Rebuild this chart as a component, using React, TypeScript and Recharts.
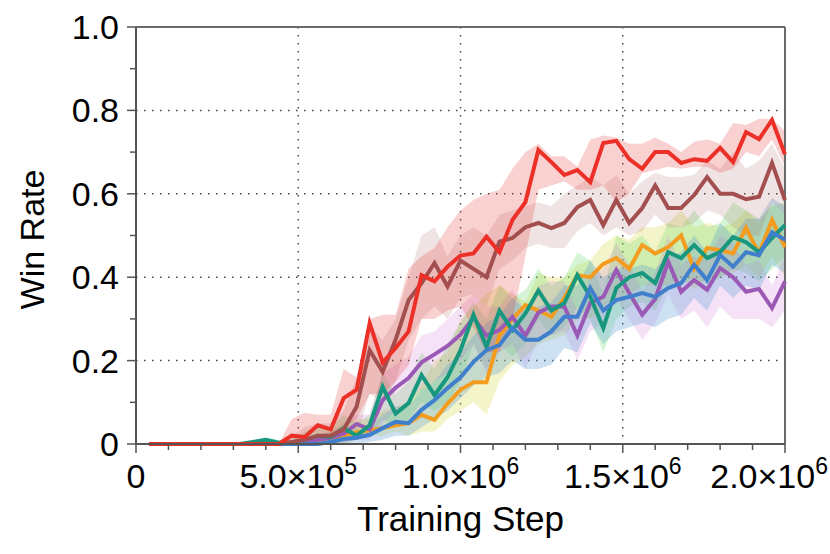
import React from 'react';
import { ComposedChart, Line, Area, XAxis, YAxis, CartesianGrid, ReferenceLine } from 'recharts';

const FONT = '"Liberation Sans", Arial, Helvetica, sans-serif';

const steps = [40000, 80000, 120000, 160000, 200000, 240000, 280000, 320000, 360000, 400000,
  440000, 480000, 520000, 560000, 600000, 640000, 680000, 720000, 760000, 800000,
  840000, 880000, 920000, 960000, 1000000, 1040000, 1080000, 1120000, 1160000, 1200000,
  1240000, 1280000, 1320000, 1360000, 1400000, 1440000, 1480000, 1520000, 1560000, 1600000,
  1640000, 1680000, 1720000, 1760000, 1800000, 1840000, 1880000, 1920000, 1960000, 2000000];

const red = [0, 0, 0, 0, 0, 0, 0, 0, 0, 0, 0,
  0.02, 0.017, 0.045, 0.035, 0.11, 0.13, 0.29, 0.195, 0.23, 0.27, 0.405, 0.39, 0.425, 0.452, 0.457, 0.497, 0.46, 0.537, 0.58,
  0.705, 0.676, 0.645, 0.657, 0.628, 0.722, 0.727, 0.683, 0.66, 0.70, 0.70, 0.674, 0.683, 0.679, 0.71, 0.676, 0.748, 0.731, 0.777, 0.695];
const redLo = [0, 0, 0, 0, 0, 0, 0, 0, 0, 0, 0,
  0, 0, 0.01, 0.01, 0.04, 0.06, 0.12, 0.12, 0.15, 0.19, 0.30, 0.30, 0.32, 0.33, 0.28, 0.22, 0.22, 0.30, 0.45,
  0.61, 0.62, 0.63, 0.61, 0.61, 0.62, 0.58, 0.60, 0.65, 0.657, 0.665, 0.66, 0.665, 0.665, 0.65, 0.66, 0.70, 0.69, 0.73, 0.665];
const redHi = [0, 0, 0, 0, 0, 0, 0, 0, 0, 0, 0,
  0.06, 0.075, 0.07, 0.07, 0.18, 0.16, 0.30, 0.31, 0.31, 0.42, 0.45, 0.47, 0.52, 0.56, 0.585, 0.60, 0.61, 0.66, 0.70,
  0.72, 0.69, 0.69, 0.665, 0.73, 0.74, 0.735, 0.72, 0.72, 0.735, 0.72, 0.70, 0.725, 0.73, 0.72, 0.77, 0.765, 0.78, 0.78, 0.75];

const brown = [0, 0, 0, 0, 0, 0, 0, 0, 0, 0, 0,
  0.005, 0.01, 0.02, 0.02, 0.035, 0.09, 0.225, 0.173, 0.25, 0.345, 0.386, 0.434, 0.378, 0.44, 0.42, 0.40, 0.485, 0.494, 0.52,
  0.53, 0.518, 0.53, 0.568, 0.585, 0.525, 0.585, 0.53, 0.566, 0.62, 0.566, 0.566, 0.597, 0.64, 0.60, 0.60, 0.587, 0.593, 0.674, 0.585];
const brownLo = [0, 0, 0, 0, 0, 0, 0, 0, 0, 0, 0,
  0, 0, 0, 0, 0.01, 0.02, 0.12, 0.10, 0.15, 0.25, 0.30, 0.33, 0.30, 0.35, 0.36, 0.33, 0.42, 0.44, 0.47,
  0.48, 0.47, 0.47, 0.51, 0.53, 0.50, 0.52, 0.50, 0.51, 0.55, 0.52, 0.52, 0.53, 0.56, 0.55, 0.52, 0.50, 0.50, 0.58, 0.55];
const brownHi = [0, 0, 0, 0, 0, 0, 0, 0, 0, 0, 0,
  0.02, 0.04, 0.05, 0.05, 0.08, 0.16, 0.28, 0.25, 0.30, 0.40, 0.50, 0.52, 0.45, 0.50, 0.52, 0.50, 0.55, 0.56, 0.57,
  0.58, 0.57, 0.60, 0.62, 0.64, 0.62, 0.645, 0.60, 0.63, 0.65, 0.64, 0.64, 0.645, 0.68, 0.66, 0.70, 0.66, 0.68, 0.72, 0.66];

const orange = [0, 0, 0, 0, 0, 0, 0, 0, 0, 0, 0, 0,
  0.003, 0.008, 0.015, 0.02, 0.028, 0.033, 0.038, 0.045, 0.05, 0.07, 0.058, 0.097, 0.13, 0.148, 0.148, 0.26, 0.30, 0.333,
  0.32, 0.305, 0.35, 0.405, 0.40, 0.432, 0.446, 0.42, 0.477, 0.457, 0.472, 0.50, 0.42, 0.47, 0.465, 0.457, 0.518, 0.457, 0.537, 0.472];
const orangeLo = [0, 0, 0, 0, 0, 0, 0, 0, 0, 0, 0, 0,
  0, 0, 0, 0, 0.01, 0.02, 0.02, 0.03, 0.02, 0.03, 0.03, 0.06, 0.08, 0.10, 0.07, 0.15, 0.19, 0.21,
  0.24, 0.25, 0.26, 0.30, 0.30, 0.33, 0.35, 0.36, 0.38, 0.38, 0.38, 0.40, 0.37, 0.40, 0.40, 0.41, 0.43, 0.40, 0.45, 0.40];
const orangeHi = [0, 0, 0, 0, 0, 0, 0, 0, 0, 0, 0, 0,
  0.01, 0.02, 0.03, 0.05, 0.06, 0.06, 0.08, 0.09, 0.10, 0.14, 0.20, 0.22, 0.30, 0.33, 0.36, 0.38, 0.36, 0.34,
  0.41, 0.40, 0.40, 0.43, 0.44, 0.48, 0.50, 0.49, 0.52, 0.52, 0.53, 0.56, 0.52, 0.53, 0.52, 0.53, 0.56, 0.53, 0.58, 0.55];

const teal = [0, 0, 0, 0, 0, 0, 0, 0,
  0.005, 0.01, 0.003, 0.003, 0.01, 0.02, 0.017, 0.038, 0.02, 0.045, 0.137, 0.073, 0.098, 0.165, 0.117, 0.16, 0.225, 0.31, 0.233, 0.32, 0.273, 0.313,
  0.368, 0.32, 0.338, 0.405, 0.353, 0.278, 0.374, 0.40, 0.41, 0.386, 0.46, 0.446, 0.477, 0.446, 0.46, 0.496, 0.484, 0.46, 0.494, 0.525];
const tealLo = [0, 0, 0, 0, 0, 0, 0, 0,
  0, 0, 0, 0, 0, 0, 0, 0.01, 0.01, 0.02, 0.06, 0.04, 0.06, 0.10, 0.08, 0.10, 0.15, 0.24, 0.18, 0.24, 0.21, 0.24,
  0.30, 0.26, 0.28, 0.33, 0.30, 0.22, 0.30, 0.33, 0.34, 0.32, 0.38, 0.38, 0.40, 0.38, 0.40, 0.42, 0.41, 0.39, 0.42, 0.45];
const tealHi = [0, 0, 0, 0, 0, 0, 0, 0,
  0.008, 0.015, 0.01, 0.01, 0.03, 0.04, 0.04, 0.07, 0.05, 0.07, 0.17, 0.12, 0.15, 0.22, 0.18, 0.24, 0.29, 0.34, 0.30, 0.38, 0.35, 0.37,
  0.42, 0.38, 0.40, 0.46, 0.44, 0.36, 0.50, 0.48, 0.50, 0.46, 0.53, 0.52, 0.56, 0.52, 0.53, 0.58, 0.56, 0.54, 0.57, 0.58];

const purple = [0, 0, 0, 0, 0, 0, 0, 0, 0, 0, 0, 0,
  0.003, 0.01, 0.015, 0.025, 0.048, 0.035, 0.105, 0.135, 0.158, 0.196, 0.215, 0.235, 0.262, 0.303, 0.26, 0.273, 0.305, 0.26,
  0.315, 0.33, 0.33, 0.26, 0.338, 0.353, 0.417, 0.362, 0.31, 0.348, 0.437, 0.365, 0.393, 0.37, 0.422, 0.40, 0.365, 0.372, 0.326, 0.39];
const purpleLo = [0, 0, 0, 0, 0, 0, 0, 0, 0, 0, 0, 0, 0,
  0, 0, 0, 0.01, 0.01, 0.05, 0.08, 0.10, 0.13, 0.15, 0.17, 0.20, 0.24, 0.17, 0.22, 0.24, 0.18,
  0.25, 0.26, 0.27, 0.20, 0.27, 0.29, 0.35, 0.30, 0.25, 0.29, 0.36, 0.30, 0.32, 0.28, 0.33, 0.30, 0.30, 0.30, 0.28, 0.32];
const purpleHi = [0, 0, 0, 0, 0, 0, 0, 0, 0, 0, 0, 0, 0.005,
  0.02, 0.03, 0.05, 0.07, 0.07, 0.17, 0.19, 0.21, 0.26, 0.27, 0.30, 0.33, 0.36, 0.33, 0.33, 0.37, 0.32,
  0.38, 0.39, 0.39, 0.32, 0.40, 0.42, 0.48, 0.43, 0.37, 0.41, 0.50, 0.43, 0.45, 0.44, 0.50, 0.48, 0.43, 0.44, 0.38, 0.45];

const blue = [0, 0, 0, 0, 0, 0, 0, 0, 0, 0, 0, 0, 0, 0,
  0.005, 0.012, 0.015, 0.022, 0.038, 0.053, 0.05, 0.082, 0.105, 0.134, 0.16, 0.197, 0.225, 0.237, 0.278, 0.25,
  0.25, 0.27, 0.305, 0.305, 0.374, 0.32, 0.345, 0.353, 0.362, 0.353, 0.374, 0.386, 0.43, 0.393, 0.453, 0.425, 0.46, 0.453, 0.508, 0.49];
const blueLo = [0, 0, 0, 0, 0, 0, 0, 0, 0, 0, 0, 0,
  0, 0, 0, 0, 0, 0.005, 0.01, 0.02, 0.02, 0.04, 0.06, 0.08, 0.11, 0.14, 0.16, 0.17, 0.20, 0.18,
  0.18, 0.19, 0.23, 0.22, 0.29, 0.24, 0.27, 0.28, 0.29, 0.28, 0.30, 0.31, 0.35, 0.32, 0.38, 0.35, 0.38, 0.37, 0.43, 0.41];
const blueHi = [0, 0, 0, 0, 0, 0, 0, 0, 0, 0, 0, 0,
  0.005, 0.01, 0.015, 0.025, 0.03, 0.04, 0.07, 0.09, 0.09, 0.13, 0.15, 0.19, 0.22, 0.26, 0.29, 0.31, 0.35, 0.32,
  0.33, 0.34, 0.38, 0.38, 0.44, 0.40, 0.42, 0.42, 0.43, 0.42, 0.45, 0.46, 0.50, 0.46, 0.53, 0.50, 0.54, 0.54, 0.59, 0.57];

const xAllTicks = [0, 100000, 200000, 300000, 400000, 500000, 600000, 700000, 800000, 900000, 1000000,
  1100000, 1200000, 1300000, 1400000, 1500000, 1600000, 1700000, 1800000, 1900000, 2000000];
const xMajorTicks = [0, 500000, 1000000, 1500000, 2000000];
const xTickMantissa = ['0', '5.0', '1.0', '1.5', '2.0'];
const xTickExponent = ['', '5', '6', '6', '6'];

const yAllTicks = [0, 0.1, 0.2, 0.3, 0.4, 0.5, 0.6, 0.7, 0.8, 0.9, 1];
const yMajorTicks = [0, 0.2, 0.4, 0.6, 0.8, 1];
const yTickLabels = ['0', '0.2', '0.4', '0.6', '0.8', '1.0'];

const data = steps.map((s, i) => ({
  step: s,
  red: red[i], redBand: [redLo[i], redHi[i]],
  brown: brown[i], brownBand: [brownLo[i], brownHi[i]],
  orange: orange[i], orangeBand: [orangeLo[i], orangeHi[i]],
  teal: teal[i], tealBand: [tealLo[i], tealHi[i]],
  purple: purple[i], purpleBand: [purpleLo[i], purpleHi[i]],
  blue: blue[i], blueBand: [blueLo[i], blueHi[i]],
}));

const AXIS = '#555';
const CHART_W = 830;
const TICK_FS = 34;
const SUP_FS = 23;

const XTick = (props: any) => {
  const { x, y, payload } = props;
  const idx = xMajorTicks.indexOf(payload.value);
  const major = idx >= 0;
  let labelX = x;
  let anchor: 'middle' | 'end' = 'middle';
  if (major && xTickExponent[idx]) {
    const half = (3.1 * TICK_FS + 0.56 * SUP_FS) / 2;
    if (x + half > CHART_W - 2) {
      labelX = CHART_W - 2;
      anchor = 'end';
    }
  }
  return (
    <g>
      <line x1={x} x2={x} y1={y} y2={y + (major ? 9 : 6)} stroke={AXIS} strokeWidth={1.5} />
      {major && (
        <text x={labelX} y={y + 44} textAnchor={anchor} fontSize={TICK_FS} fontFamily={FONT} fill="#000">
          {xTickExponent[idx] ? xTickMantissa[idx] + '×10' : xTickMantissa[idx]}
          {xTickExponent[idx] ? <tspan dy={-14} fontSize={SUP_FS}>{xTickExponent[idx]}</tspan> : null}
        </text>
      )}
    </g>
  );
};

const YTick = (props: any) => {
  const { x, y, payload } = props;
  const idx = yMajorTicks.findIndex((v) => Math.abs(v - payload.value) < 1e-9);
  const major = idx >= 0;
  return (
    <g>
      <line x1={x - (major ? 9 : 6)} x2={x} y1={y} y2={y} stroke={AXIS} strokeWidth={1.5} />
      {major && (
        <text x={x - 17} y={y} dy={12} textAnchor="end" fontSize={TICK_FS} fontFamily={FONT} fill="#000">
          {yTickLabels[idx]}
        </text>
      )}
    </g>
  );
};

const XTitle = (props: any) => {
  const vb = props.viewBox || { x: 136, y: 444, width: 649, height: 110 };
  return (
    <text x={vb.x + vb.width / 2} y={vb.y + 87} textAnchor="middle" fontSize={35} fontFamily={FONT} fill="#000">
      Training Step
    </text>
  );
};

const YTitle = (props: any) => {
  const vb = props.viewBox || { x: 0, y: 27, width: 136, height: 417 };
  const cx = vb.x + 32;
  const cy = vb.y + vb.height / 2 + 4;
  return (
    <text x={cx} y={cy} transform={`rotate(-90, ${cx}, ${cy})`} dy={12} textAnchor="middle" fontSize={34} fontFamily={FONT} fill="#000">
      Win Rate
    </text>
  );
};

const bands = [
  { key: 'orangeBand', fill: '#d6d640', op: 0.28 },
  { key: 'tealBand', fill: '#5ad65a', op: 0.25 },
  { key: 'purpleBand', fill: '#d070d0', op: 0.2 },
  { key: 'blueBand', fill: '#5b9bd5', op: 0.3 },
  { key: 'brownBand', fill: '#a0524f', op: 0.16 },
  { key: 'redBand', fill: '#e8403a', op: 0.24 },
];

const lines = [
  { key: 'orange', color: '#f39c1f' },
  { key: 'purple', color: '#9b59b6' },
  { key: 'teal', color: '#17977e' },
  { key: 'blue', color: '#3f7fcc' },
  { key: 'brown', color: '#a34f4f' },
  { key: 'red', color: '#ec3028' },
];

export default function App() {
  return (
    <div style={{ position: 'absolute', left: 0, top: 0, background: '#fff' }}>
      <ComposedChart width={CHART_W} height={554} data={data} margin={{ top: 27, right: 45, bottom: 0, left: 0 }}>
        <CartesianGrid
          horizontalValues={[0.2, 0.4, 0.6, 0.8]}
          verticalValues={[500000, 1000000, 1500000]}
          stroke="#444"
          strokeWidth={1.5}
          strokeDasharray="1.5 6.5"
        />
        <XAxis
          dataKey="step"
          type="number"
          domain={[0, 2000000]}
          ticks={xAllTicks}
          interval={0}
          tickSize={0}
          tickMargin={0}
          tickLine={false}
          tick={<XTick />}
          height={110}
          axisLine={{ stroke: AXIS, strokeWidth: 2 }}
          label={(p: any) => <XTitle {...p} />}
        />
        <YAxis
          type="number"
          domain={[0, 1]}
          ticks={yAllTicks}
          interval={0}
          tickSize={0}
          tickMargin={0}
          tickLine={false}
          tick={<YTick />}
          width={136}
          axisLine={{ stroke: AXIS, strokeWidth: 2 }}
          label={(p: any) => <YTitle {...p} />}
        />
        <ReferenceLine y={1} stroke="#6a6a6a" strokeWidth={2} />
        <ReferenceLine x={2000000} stroke="#6a6a6a" strokeWidth={2} />
        {bands.map((b) => (
          <Area
            key={b.key}
            dataKey={b.key}
            type="linear"
            stroke="none"
            fill={b.fill}
            fillOpacity={b.op}
            isAnimationActive={false}
            dot={false}
            activeDot={false}
          />
        ))}
        {lines.map((l) => (
          <Line
            key={l.key}
            dataKey={l.key}
            type="linear"
            stroke={l.color}
            strokeWidth={4}
            dot={false}
            activeDot={false}
            isAnimationActive={false}
          />
        ))}
      </ComposedChart>
    </div>
  );
}
